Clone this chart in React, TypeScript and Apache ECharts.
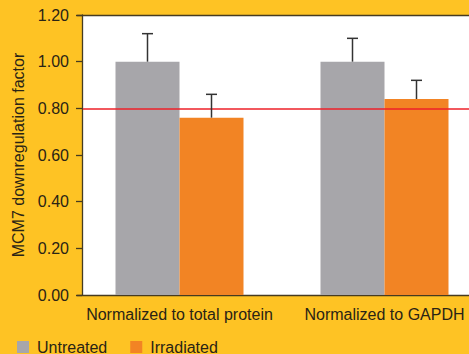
import React, { useEffect, useRef } from "react";
import * as echarts from "echarts";

const categories = ["Normalized to total protein", "Normalized to GAPDH"];
const seriesNames = ["Untreated", "Irradiated"];
const untreated = [1.0, 1.0];
const irradiated = [0.76, 0.84];
const untreatedErrTop = [1.12, 1.1];
const irradiatedErrTop = [0.86, 0.92];
const thresholdValue = 0.8;
const yMin = 0;
const yMax = 1.2;
const yInterval = 0.2;
const yTitle = "MCM7 downregulation factor";

const FONT = "'Liberation Sans', Arial, Helvetica, sans-serif";
const TEXT = "#2a2415";
const AXIS = "#463b20";
const BAR_W = 64;

function errorSeries(name: string, vals: number[], tops: number[], offset: number) {
  return {
    type: "custom",
    name: name + " error",
    silent: true,
    z: 5,
    data: vals.map((v, i) => [i, v, tops[i]]),
    encode: { x: 0, y: [1, 2] },
    renderItem: (params: any, api: any) => {
      const xi = api.value(0);
      const base = api.coord([xi, api.value(1)]);
      const top = api.coord([xi, api.value(2)]);
      const x = base[0] + offset;
      const style = { stroke: "#333333", lineWidth: 1.5 };
      return {
        type: "group",
        children: [
          { type: "line", shape: { x1: x, y1: base[1], x2: x, y2: top[1] }, style },
          { type: "line", shape: { x1: x - 5.5, y1: top[1], x2: x + 5.5, y2: top[1] }, style },
        ],
      };
    },
  };
}

export default function App() {
  const ref = useRef<HTMLDivElement>(null);
  useEffect(() => {
    document.body.style.margin = "0";
    const chart = echarts.init(ref.current!, null, { renderer: "svg" });
    chart.setOption({
      animation: false,
      backgroundColor: "#FEC324",
      textStyle: { fontFamily: FONT },
      grid: {
        left: 77,
        top: 15,
        width: 410,
        height: 280,
        containLabel: false,
        outerBoundsMode: "none",
      },
      graphic: [
        {
          type: "rect",
          z: -1,
          silent: true,
          shape: { x: 83, y: 15, width: 400, height: 280 },
          style: { fill: "#ffffff" },
        },
      ],
      legend: {
        data: seriesNames,
        left: 12,
        top: 334,
        itemWidth: 12,
        itemHeight: 12,
        itemGap: 23,
        icon: "rect",
        selectedMode: false,
        textStyle: { fontFamily: FONT, fontSize: 16, color: TEXT, padding: [0, 0, 0, 3] },
      },
      xAxis: [
        {
          type: "category",
          data: categories,
          position: "bottom",
          axisLine: { lineStyle: { color: AXIS, width: 1.3 } },
          axisTick: { show: false },
          axisLabel: { color: TEXT, fontSize: 16, fontFamily: FONT, margin: 11, interval: 0 },
          splitLine: { show: false },
        },
        {
          type: "category",
          data: categories,
          position: "top",
          axisLine: { lineStyle: { color: AXIS, width: 1.3 } },
          axisTick: { show: false },
          axisLabel: { show: false },
          splitLine: { show: false },
        },
      ],
      yAxis: {
        type: "value",
        min: yMin,
        max: yMax,
        interval: yInterval,
        offset: -5,
        name: yTitle,
        nameLocation: "middle",
        nameGap: 43,
        nameTextStyle: { color: TEXT, fontSize: 16, fontFamily: FONT },
        axisLine: { show: true, lineStyle: { color: AXIS, width: 1.3 } },
        axisTick: { show: true, length: 6, lineStyle: { color: AXIS, width: 1.3 } },
        axisLabel: {
          color: TEXT,
          fontSize: 16,
          fontFamily: FONT,
          margin: 13,
          formatter: (v: number) => v.toFixed(2),
        },
        splitLine: { show: false },
      },
      series: [
        {
          type: "bar",
          name: seriesNames[0],
          data: untreated,
          barWidth: BAR_W,
          barGap: "0%",
          silent: true,
          itemStyle: { color: "#A7A6AA" },
        },
        {
          type: "bar",
          name: seriesNames[1],
          data: irradiated,
          barWidth: BAR_W,
          barGap: "0%",
          silent: true,
          itemStyle: { color: "#F28424" },
          markLine: {
            silent: true,
            symbol: ["none", "none"],
            label: { show: false },
            lineStyle: { color: "#EE2128", width: 1.6, type: "solid" },
            data: [[{ x: 83, yAxis: thresholdValue }, { x: "100%", yAxis: thresholdValue }]],
          },
        },
        errorSeries(seriesNames[0], untreated, untreatedErrTop, -BAR_W / 2),
        errorSeries(seriesNames[1], irradiated, irradiatedErrTop, BAR_W / 2),
      ],
    });
    return () => chart.dispose();
  }, []);
  return <div ref={ref} style={{ width: 469, height: 354 }} />;
}
